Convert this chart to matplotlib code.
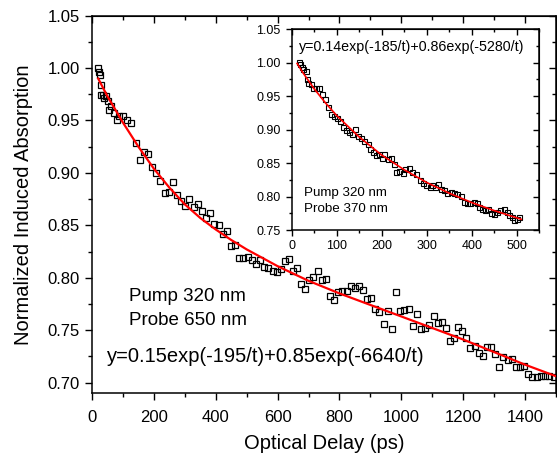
import numpy as np
import matplotlib
matplotlib.use("Agg")
import matplotlib.pyplot as plt
from matplotlib.ticker import MultipleLocator, FormatStrFormatter

plt.rcParams['font.family'] = ['Liberation Sans', 'DejaVu Sans']

# main panel: probe 650 nm (delay in ps, normalized absorption)
main_t = [20.4, 23.6, 25.8, 27.9, 30.0, 34.4, 38.7, 45.0, 50.6, 56.0, 62.5, 70.0, 79.7, 88.3,
          101, 114, 127, 141, 154, 167, 181, 194, 208, 220, 235, 248, 262, 274, 288, 301,
          314, 329, 342, 355, 368, 382, 395, 409, 422, 435, 449, 462, 476, 489, 503, 517,
          530, 543, 556, 570, 584, 597, 610, 623, 636, 649, 662, 675, 688, 702, 716, 729,
          742, 756, 769, 782, 796, 809, 823, 836, 849, 863, 876, 890, 903, 916, 929, 943,
          957, 970, 984, 997, 1010, 1024, 1037, 1051, 1063, 1078, 1091, 1104, 1117, 1130,
          1143, 1156, 1170, 1183, 1197, 1210, 1223, 1237, 1250, 1264, 1277, 1291, 1304,
          1317, 1330, 1344, 1357, 1370, 1384, 1397, 1409, 1424, 1437, 1450, 1464, 1478, 1492]
main_v = [1.000, 0.9965, 0.993, 0.984, 0.974, 0.974, 0.971, 0.973, 0.969, 0.960, 0.964, 0.957, 0.950, 0.954,
          0.954, 0.950, 0.948, 0.929, 0.912, 0.920, 0.918, 0.906, 0.900, 0.892, 0.881, 0.882, 0.891, 0.879, 0.873, 0.868,
          0.875, 0.867, 0.870, 0.864, 0.857, 0.862, 0.851, 0.850, 0.842, 0.845, 0.830, 0.831, 0.819, 0.819, 0.820, 0.817,
          0.813, 0.817, 0.810, 0.809, 0.806, 0.805, 0.808, 0.816, 0.818, 0.806, 0.809, 0.794, 0.789, 0.798, 0.801, 0.806,
          0.798, 0.799, 0.783, 0.779, 0.786, 0.787, 0.787, 0.792, 0.790, 0.792, 0.788, 0.780, 0.781, 0.770, 0.767, 0.756,
          0.768, 0.751, 0.786, 0.768, 0.769, 0.770, 0.754, 0.765, 0.751, 0.752, 0.755, 0.763, 0.757, 0.758,
          0.752, 0.740, 0.742, 0.753, 0.749, 0.742, 0.733, 0.735, 0.728, 0.725, 0.734, 0.734, 0.727,
          0.715, 0.724, 0.721, 0.722, 0.715, 0.715, 0.716, 0.708, 0.705, 0.705, 0.706, 0.706, 0.706, 0.705]

# fit curve
fit_t = [20, 50, 100, 150, 200, 250, 300, 350, 400, 450, 500, 600, 700, 800, 900, 1000,
         1100, 1200, 1300, 1400, 1500]
fit_v = [0.990, 0.973, 0.948, 0.925, 0.904, 0.886, 0.870, 0.857, 0.846, 0.836, 0.827, 0.811,
         0.797, 0.785, 0.774, 0.763, 0.752, 0.741, 0.729, 0.717, 0.706]

# inset: probe 370 nm
ins_t = [16.1, 18.3, 22.0, 25.6, 30.9, 33.8, 36.6, 42.6, 47.7, 52.9, 60.2, 67.5, 75.0, 80.8,
         86.7, 93.3, 100.0, 106.6, 113.8, 121.3, 127.0, 133.7, 140.3, 147.0, 154.4, 161.7,
         169.0, 175.0, 180.9, 187.5, 194.8, 199.9, 205.8, 213.0, 220.6, 226.3, 231.6, 238.9,
         246.3, 252.2, 259.5, 268.3, 275.7, 284.6, 291.9, 299.2, 306.6, 312.4, 318.3, 325.6,
         330.9, 338.2, 345.5, 353.0, 360.2, 367.5, 375.0, 382.3, 389.6, 397.0, 404.4, 411.7,
         417.0, 422.7, 428.6, 436.0, 443.4, 448.5, 455.8, 463.3, 470.6, 477.8, 483.1, 488.9,
         494.8, 499.9, 505.2]
ins_v = [1.001, 0.998, 0.994, 0.991, 0.988, 0.976, 0.969, 0.968, 0.963, 0.962, 0.962, 0.953, 0.946, 0.934,
         0.923, 0.921, 0.917, 0.913, 0.904, 0.900, 0.896, 0.893, 0.901, 0.891, 0.887, 0.883,
         0.878, 0.871, 0.867, 0.862, 0.863, 0.857, 0.863, 0.856, 0.857, 0.849, 0.837, 0.838,
         0.835, 0.841, 0.842, 0.837, 0.834, 0.824, 0.821, 0.817, 0.815, 0.817, 0.814, 0.819,
         0.811, 0.810, 0.805, 0.807, 0.806, 0.804, 0.801, 0.792, 0.791, 0.790, 0.792, 0.790,
         0.785, 0.781, 0.780, 0.781, 0.776, 0.774, 0.777, 0.780, 0.781, 0.777, 0.772, 0.770,
         0.765, 0.766, 0.769]

ins_fit_t = [12, 25, 50, 75, 100, 150, 200, 250, 300, 350, 400, 450, 510]
ins_fit_v = [0.999, 0.985, 0.961, 0.940, 0.921, 0.889, 0.862, 0.840, 0.821, 0.805, 0.791, 0.779, 0.766]


def style_axes(ax, xmaj, xmin, ymaj, ymin, lsize, maj_len, min_len, xpad, ypad):
    ax.xaxis.set_major_locator(MultipleLocator(xmaj))
    ax.xaxis.set_minor_locator(MultipleLocator(xmin))
    ax.yaxis.set_major_locator(MultipleLocator(ymaj))
    ax.yaxis.set_minor_locator(MultipleLocator(ymin))
    ax.yaxis.set_major_formatter(FormatStrFormatter('%.2f'))
    ax.tick_params(which='both', direction='out', width=1, labelsize=lsize)
    ax.tick_params(axis='x', pad=xpad)
    ax.tick_params(axis='y', pad=ypad)
    ax.tick_params(which='major', length=maj_len)
    ax.tick_params(which='minor', length=min_len)
    for s in ax.spines.values():
        s.set_linewidth(1.1)
    # opposite sides: ticks pointing in, no labels
    top = ax.secondary_xaxis('top')
    right = ax.secondary_yaxis('right')
    top.xaxis.set_major_locator(MultipleLocator(xmaj))
    top.xaxis.set_minor_locator(MultipleLocator(xmin))
    right.yaxis.set_major_locator(MultipleLocator(ymaj))
    right.yaxis.set_minor_locator(MultipleLocator(ymin))
    for sec in (top, right):
        sec.tick_params(which='both', direction='in', width=1,
                        labeltop=False, labelright=False)
        sec.tick_params(which='major', length=maj_len)
        sec.tick_params(which='minor', length=min_len)


fig = plt.figure(figsize=(5.57, 4.55), dpi=100)

# main plot
ax = fig.add_axes([0.1652, 0.1363, 0.833, 0.8292])
ax.plot(main_t, main_v, 's', mfc='none', mec='black', ms=4, mew=0.9, zorder=2)
ax.plot(fit_t, fit_v, '-', color='red', lw=1.6, zorder=3)
ax.set_xlim(0, 1500)
ax.set_ylim(0.69, 1.05)
style_axes(ax, 200, 100, 0.05, 0.025, 12, 5, 3, 7, 4)
ax.set_xlabel("Optical Delay (ps)", fontsize=14.5, labelpad=7)
ax.set_ylabel("Normalized Induced Absorption", fontsize=14.5, labelpad=10)

ax.text(0.08, 0.255, "Pump 320 nm", transform=ax.transAxes, fontsize=13.5, va='center')
ax.text(0.08, 0.192, "Probe 650 nm", transform=ax.transAxes, fontsize=13.5, va='center')
ax.text(0.032, 0.098, "y=0.15exp(-195/t)+0.85exp(-6640/t)", transform=ax.transAxes,
        fontsize=14.5, va='center')

# inset
axi = fig.add_axes([0.5237, 0.4945, 0.4445, 0.4411])
axi.plot(ins_t, ins_v, 's', mfc='none', mec='black', ms=3.6, mew=0.8, zorder=2)
axi.plot(ins_fit_t, ins_fit_v, '-', color='red', lw=1.2, zorder=3)
axi.set_xlim(0, 550)
axi.set_ylim(0.75, 1.05)
style_axes(axi, 100, 50, 0.05, 0.025, 9, 4, 2.5, 3, 4)

axi.text(0.03, 0.913, "y=0.14exp(-185/t)+0.86exp(-5280/t)", transform=axi.transAxes,
         fontsize=10.3, va='center')
axi.text(0.05, 0.184, "Pump 320 nm", transform=axi.transAxes, fontsize=9.6, va='center')
axi.text(0.05, 0.105, "Probe 370 nm", transform=axi.transAxes, fontsize=9.6, va='center')

fig.savefig("out.png", dpi=100)
